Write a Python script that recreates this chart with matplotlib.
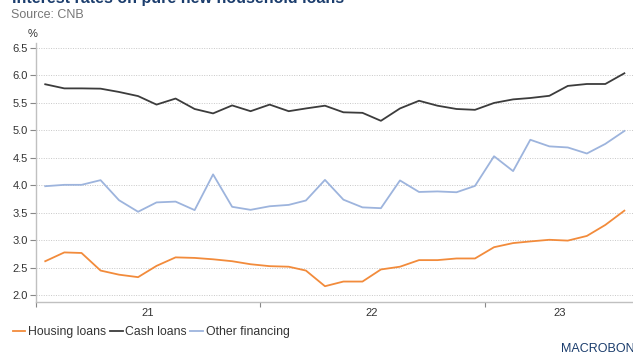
import matplotlib
matplotlib.use("Agg")
import matplotlib.pyplot as plt
import pandas as pd

plt.rcParams['font.family'] = ['Liberation Sans', 'DejaVu Sans']

months = pd.date_range("2021-01-01", periods=32, freq="MS") + pd.Timedelta(days=15)

housing = [2.62, 2.78, 2.77, 2.45, 2.375, 2.33, 2.535, 2.69, 2.68, 2.655, 2.62, 2.565,
           2.53, 2.52, 2.45, 2.165, 2.25, 2.25, 2.47, 2.52, 2.64, 2.64, 2.67, 2.67,
           2.875, 2.95, 2.98, 3.01, 2.995, 3.08, 3.28, 3.54]
cash = [5.84, 5.765, 5.765, 5.76, 5.70, 5.625, 5.47, 5.58, 5.39, 5.31, 5.455, 5.35,
        5.47, 5.35, 5.40, 5.45, 5.33, 5.32, 5.175, 5.40, 5.54, 5.45, 5.39, 5.375,
        5.50, 5.565, 5.59, 5.63, 5.81, 5.845, 5.845, 6.04]
other = [3.985, 4.01, 4.01, 4.095, 3.73, 3.52, 3.69, 3.705, 3.55, 4.20, 3.61, 3.555,
         3.62, 3.645, 3.725, 4.10, 3.74, 3.60, 3.585, 4.09, 3.88, 3.89, 3.875, 3.99,
         4.53, 4.26, 4.83, 4.71, 4.69, 4.58, 4.755, 4.99]

series_names = ["Housing loans", "Cash loans", "Other financing"]
colors = ["#f28b3b", "#3c3c3c", "#9db4dd"]
yticks = [2.0, 2.5, 3.0, 3.5, 4.0, 4.5, 5.0, 5.5, 6.0, 6.5]
year_labels = ["21", "22", "23"]

fig = plt.figure(figsize=(6.33, 3.53), dpi=100)
ax = fig.add_axes([0.0569, 0.1445, 0.945, 0.7351])

for vals, name, c in zip([housing, cash, other], series_names, colors):
    ax.plot(months, vals, color=c, lw=1.3, label=name)

ax.set_ylim(1.878, 6.6)
ax.set_xlim(pd.Timestamp("2021-01-01"), pd.Timestamp("2023-09-01"))
ax.set_yticks(yticks)
ax.set_yticklabels([f"{v:.1f}" for v in yticks], fontsize=8, color="#333333")
ax.yaxis.grid(True, linestyle=(0, (1, 1.5)), color="#c8c8c8", lw=0.7)
ax.set_axisbelow(True)

# year boundary ticks and centered labels
boundaries = [pd.Timestamp("2021-01-01"), pd.Timestamp("2022-01-01"), pd.Timestamp("2023-01-01")]
ax.set_xticks(boundaries)
ax.set_xticklabels([])
ax.set_xticks([pd.Timestamp("2021-07-01"), pd.Timestamp("2022-07-01"), pd.Timestamp("2023-05-02")], minor=True)
ax.set_xticklabels(year_labels, minor=True, fontsize=8, color="#333333")
ax.tick_params(axis="x", which="minor", length=0, pad=4.5)
ax.tick_params(axis="x", which="major", length=3.5, color="#888888", width=0.8)
ax.tick_params(axis="y", length=4, color="#888888", width=0.8, pad=2)

for s in ["top", "right"]:
    ax.spines[s].set_visible(False)
for s in ["left", "bottom"]:
    ax.spines[s].set_color("#c0c0c0")
    ax.spines[s].set_linewidth(1.0)

ax.text(0.003, 1.012, "%", transform=ax.transAxes, fontsize=8, color="#333333",
        ha="right", va="bottom")

fig.text(0.019, 1.005, "Interest rates on pure new household loans", fontsize=11.5,
         fontweight="bold", color="#1b3d6d", ha="left", va="center")
fig.text(0.018, 0.957, "Source: CNB", fontsize=9, color="#777777", ha="left", va="center")

fig.legend(loc="center left", bbox_to_anchor=(0.020, 0.060), ncol=3, frameon=False,
           fontsize=8.8, handlelength=1.05, handletextpad=0.2, columnspacing=0.3,
           labelcolor="#333333", borderpad=0, borderaxespad=0)

fig.text(561 / 633, 1.5 / 353, "MACROBOND", fontsize=9, color="#1b3d6d",
         ha="left", va="baseline")

fig.savefig("out.png", dpi=100)
